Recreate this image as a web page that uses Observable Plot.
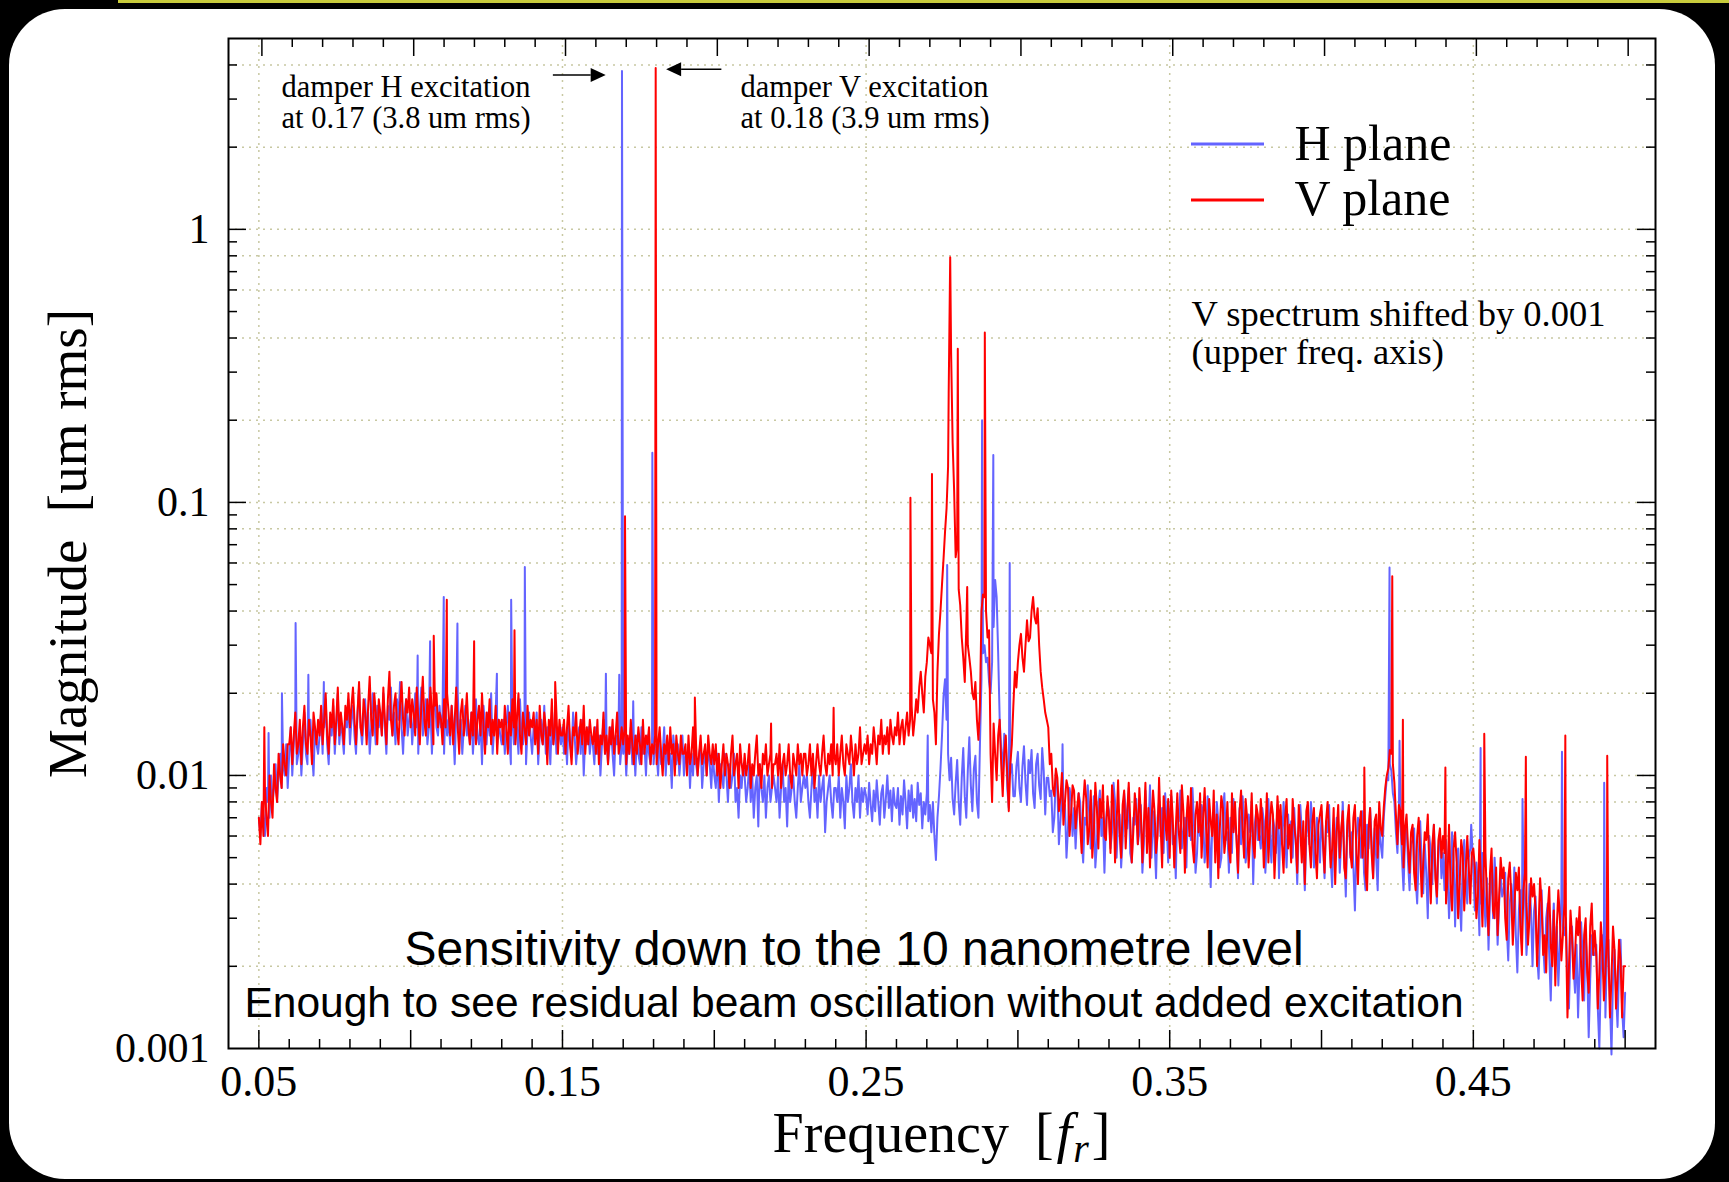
<!DOCTYPE html>
<html>
<head>
<meta charset="utf-8">
<title>Beam position spectrum</title>
<script src="https://cdn.jsdelivr.net/npm/d3@7"></script>
<script src="https://cdn.jsdelivr.net/npm/@observablehq/plot@0.6"></script>
<style>
  html, body { margin: 0; padding: 0; background: #000; }
  #stage { position: relative; width: 1729px; height: 1182px; overflow: hidden; background: #000; }
  #topline { position: absolute; left: 118px; top: 0; width: 1611px; height: 3px; background: #c8cb3c; }
  #panel { position: absolute; left: 9px; top: 9px; width: 1706px; height: 1170px; background: #fff; border-radius: 56px; }
  #chart { position: absolute; left: 0; top: 0; }
</style>
</head>
<body>
<div id="stage"><div id="topline"></div><div id="panel"></div><div id="chart"></div></div>
<script>
// ---------------- data (magnitudes in nm; 1 nm = 0.001 um rms) ----------------
// spectra sampled every 0.0005 f_r from 0.050 to 0.500 (one row = 0.01 f_r)
const freqStart = 0.05;
const freqStep = 0.0005;

const hPlaneNm = [
  7, 6, 8, 7, 6, 9, 8, 7, 10, 8, 9, 11, 8, 10, 12, 9, 11, 10, 13, 9,
  12, 15, 10, 13, 16, 11, 12, 14, 10, 13, 17, 12, 11, 14, 16, 12, 10, 15, 13, 12,
  14, 17, 12, 15, 19, 13, 11, 16, 14, 18, 12, 15, 20, 13, 16, 14, 12, 17, 15, 19,
  13, 16, 18, 14, 12, 17, 21, 15, 13, 16, 19, 14, 17, 12, 15, 20, 16, 13, 18, 15,
  17, 14, 20, 15, 12, 18, 16, 21, 14, 17, 13, 19, 16, 22, 15, 12, 17, 19, 14, 16,
  18, 13, 16, 20, 15, 12, 17, 21, 14, 16, 19, 13, 15, 18, 12, 17, 20, 15, 14, 18,
  15, 17, 12, 19, 14, 16, 13, 18, 15, 11, 17, 20, 14, 16, 12, 15, 18, 14, 16, 13,
  17, 12, 15, 19, 14, 13, 16, 11, 18, 15, 13, 17, 14, 20, 12, 15, 17, 13, 16, 14,
  13, 16, 12, 15, 18, 14, 11, 16, 13, 17, 15, 12, 19, 14, 13, 16, 11, 15, 17, 14,
  12, 15, 14, 17, 11, 14, 16, 13, 18, 12, 15, 14, 11, 16, 13, 17, 12, 15, 14, 13,
  15, 12, 14, 11, 16, 13, 12, 17, 14, 11, 13, 15, 12, 16, 10, 14, 13, 15, 12, 14,
  13, 11, 15, 12, 14, 10, 13, 16, 12, 14, 11, 13, 15, 12, 10, 14, 13, 16, 11, 13,
  12, 14, 10, 13, 12, 15, 11, 13, 10, 14, 12, 11, 15, 12, 13, 10, 14, 12, 11, 13,
  11, 13, 12, 10, 14, 11, 12, 15, 10, 13, 11, 12, 9, 14, 12, 11, 13, 10, 12, 14,
  10, 12, 11, 13, 9, 12, 10, 14, 11, 10, 12, 13, 9, 11, 12, 10, 13, 11, 9, 12,
  10, 9, 12, 8, 11, 10, 9, 12, 10, 8, 11, 9, 10, 12, 8, 9, 7, 10, 9, 11,
  10, 8, 9, 11, 8, 10, 7, 9, 10, 6.5, 11, 9, 8, 10, 7, 9, 10, 8, 9, 10,
  9, 8, 10, 7, 9, 11, 8, 9, 6.5, 10, 8, 9, 10, 8, 7, 9, 11, 8, 9, 10,
  9, 10, 8, 7, 9, 11, 8, 9, 7, 10, 8, 9, 10, 6.2, 8, 9, 10, 8, 7, 9,
  9, 8, 10, 7, 9, 8, 6.4, 10, 8, 9, 11, 8, 7, 9, 8, 10, 7, 9, 8, 9,
  8.4, 7.2, 9.4, 7.8, 6.8, 8.8, 7.4, 9.6, 8.0, 6.6, 8.6, 9.2, 7.0, 8.2, 10.0, 7.6, 8.8, 6.8, 9.0, 7.8,
  7.6, 9.0, 6.6, 8.4, 7.2, 9.6, 8.0, 6.4, 8.8, 7.4, 9.2, 7.0, 8.2, 6.8, 9.4, 7.8, 8.6, 6.4, 8.0, 7.2,
  8.6, 6.8, 7.8, 6.2, 8.0, 6.0, 4.9, 7.0, 8.4, 10.6, 14.0, 19.5, 22.5, 16.0, 12.0, 9.6, 11.6, 8.2, 7.2, 9.4,
  11.4, 8.0, 6.6, 9.8, 12.6, 8.4, 7.0, 10.4, 13.8, 9.2, 7.4, 10.6, 11.8, 8.0, 7.0, 13.0, 22.5, 28.0, 30.0, 26.0,
  27.0, 22.0, 20.0, 26.0, 35.0, 52.0, 45.0, 28.0, 16.0, 12.4, 10.5, 14.2, 13.5, 9.0, 7.6, 10.2, 11.0, 8.4, 8.4, 10.8,
  12.2, 9.0, 8.0, 10.8, 12.8, 9.4, 7.8, 11.4, 10.2, 12.4, 8.6, 7.6, 11.0, 12.0, 9.2, 8.2, 12.6, 10.4, 7.2, 9.8,
  9.8, 8.4, 8.8, 6.2, 7.0, 10.2, 9.0, 5.6, 6.8, 8.6, 7.4, 7.8, 5.0, 6.4, 9.0, 8.2, 6.0, 7.6, 5.4, 7.2,
  8.6, 8.0, 5.8, 4.8, 7.0, 6.6, 9.2, 7.2, 5.4, 6.2, 8.4, 4.6, 5.6, 7.8, 8.8, 6.0, 7.0, 4.4, 6.8, 8.0,
  7.4, 5.4, 6.2, 9.4, 8.0, 5.0, 6.8, 7.2, 4.6, 5.8, 8.6, 7.6, 6.4, 9.0, 5.2, 4.8, 7.0, 6.6, 8.2, 5.6,
  6.2, 7.8, 4.4, 5.6, 8.8, 6.8, 6.4, 9.2, 5.0, 7.4, 5.8, 4.2, 7.0, 8.0, 6.0, 7.6, 5.2, 8.6, 6.6, 4.8,
  7.2, 8.4, 5.6, 6.0, 4.2, 7.6, 6.8, 8.8, 5.4, 6.2, 7.0, 4.6, 8.0, 6.4, 5.8, 9.0, 6.6, 4.4, 5.2, 7.4,
  6.0, 7.8, 7.2, 4.8, 5.6, 8.4, 6.2, 3.9, 6.6, 7.0, 5.4, 8.0, 6.8, 4.6, 5.0, 7.4, 8.6, 5.8, 6.2, 4.4,
  7.0, 5.2, 8.2, 6.4, 6.0, 4.2, 7.6, 5.6, 8.4, 6.8, 4.8, 5.4, 7.2, 6.2, 8.0, 4.0, 6.6, 7.4, 5.8, 6.0,
  5.4, 7.6, 6.8, 4.4, 5.8, 8.2, 6.0, 4.8, 7.0, 6.4, 5.2, 7.8, 4.2, 6.6, 5.6, 8.0, 6.2, 4.6, 7.2, 5.6,
  6.8, 5.0, 7.6, 5.8, 4.0, 6.4, 7.8, 6.2, 5.4, 3.8, 6.0, 7.2, 5.6, 8.0, 6.6, 4.6, 5.2, 7.0, 6.0, 4.8,
  7.4, 5.6, 4.2, 6.8, 6.2, 7.8, 5.0, 3.9, 6.0, 5.4, 7.0, 6.6, 4.4, 5.8, 8.0, 5.2, 3.6, 6.4, 7.2, 5.0,
  6.2, 4.6, 3.2, 5.8, 7.0, 6.0, 5.0, 7.4, 4.4, 3.8, 6.6, 5.4, 7.6, 5.8, 4.2, 6.4, 5.0, 3.8, 6.8, 5.6,
  5.0, 7.0, 8.4, 9.8, 9.6, 11.0, 10.4, 8.6, 8.0, 6.2, 5.2, 7.4, 6.8, 5.0, 3.8, 5.8, 6.6, 4.8, 3.8, 5.6,
  5.8, 6.4, 4.2, 3.4, 5.0, 6.8, 4.8, 3.7, 5.6, 4.4, 3.0, 6.0, 5.2, 4.0, 6.6, 4.6, 3.4, 5.4, 6.0, 4.2,
  5.2, 3.8, 5.8, 4.4, 3.0, 4.0, 6.2, 5.0, 2.8, 4.6, 5.4, 3.6, 2.7, 4.8, 5.8, 4.2, 3.4, 5.0, 5.4, 6.0,
  4.4, 3.2, 4.8, 4.0, 2.6, 3.4, 5.2, 3.8, 2.8, 4.2, 2.3, 3.6, 4.6, 3.0, 5.0, 3.8, 2.4, 3.4, 4.4, 3.6,
  3.8, 4.4, 2.8, 2.1, 3.4, 4.0, 3.0, 4.6, 2.6, 1.9, 3.2, 3.8, 2.4, 4.4, 3.6, 2.2, 2.8, 4.0, 3.2, 2.0,
  3.2, 3.6, 2.2, 1.8, 2.8, 3.8, 2.4, 1.9, 3.0, 3.4, 2.2, 1.5, 2.6, 3.4, 2.0, 2.8, 1.7, 2.4, 3.6, 2.8,
  2.6, 3.0, 1.8, 1.4, 2.4, 2.8, 2.0, 1.6, 2.4, 1.3, 2.0, 2.9, 2.2, 1.5, 2.6, 2.0, 1.1, 1.8, 2.6, 2.2,
  2.2, 2.4, 1.4, 1.0, 1.9, 2.6, 1.8, 1.3, 2.2, 2.5, 1.5, 0.95, 1.8, 2.3, 1.6, 1.2, 2.0, 2.5, 1.4, 1.1,
  1.6
];

const vPlaneNm = [
  7, 5.6, 8, 6, 9, 7, 6, 10, 8, 7, 11, 9, 8, 12, 10, 9, 13, 11, 10, 13,
  13, 15, 11, 14, 17, 12, 13, 16, 11, 15, 18, 13, 12, 16, 14, 11, 17, 15, 13, 16,
  14, 18, 13, 16, 20, 14, 12, 17, 15, 19, 13, 16, 21, 14, 17, 15, 13, 18, 16, 20,
  15, 18, 21, 16, 13, 17, 22, 15, 14, 19, 17, 13, 18, 23, 16, 14, 20, 17, 13, 19,
  17, 14, 21, 16, 13, 19, 24, 16, 14, 18, 20, 15, 13, 18, 22, 16, 14, 19, 17, 21,
  15, 19, 17, 14, 21, 16, 13, 18, 23, 16, 14, 19, 15, 21, 17, 13, 18, 20, 15, 17,
  16, 13, 19, 15, 20, 17, 14, 18, 13, 16, 21, 15, 12, 17, 19, 14, 16, 20, 15, 13,
  17, 14, 19, 13, 16, 18, 14, 20, 15, 12, 17, 15, 19, 13, 16, 14, 18, 12, 16, 15,
  16, 13, 18, 15, 12, 17, 14, 19, 15, 13, 16, 20, 14, 12, 17, 15, 13, 18, 14, 16,
  15, 17, 13, 16, 12, 18, 14, 13, 17, 15, 11, 16, 14, 19, 13, 15, 17, 12, 16, 14,
  14, 16, 12, 15, 18, 13, 11, 15, 14, 17, 12, 14, 16, 13, 18, 12, 15, 13, 16, 14,
  13, 15, 12, 16, 11, 14, 13, 17, 12, 14, 11, 15, 13, 16, 12, 14, 17, 12, 13, 15,
  13, 15, 11, 14, 12, 16, 13, 11, 14, 12, 15, 13, 11, 16, 12, 14, 13, 15, 11, 13,
  12, 14, 11, 13, 15, 12, 10, 13, 12, 14, 11, 15, 12, 13, 10, 14, 12, 11, 14, 12,
  12, 13, 10, 14, 11, 12, 15, 11, 13, 10, 12, 14, 11, 12, 13, 10, 14, 12, 11, 13,
  11, 13, 10, 12, 9, 11, 13, 10, 12, 11, 9, 12, 14, 10, 11, 12, 9, 13, 11, 10,
  12, 10, 11, 13, 9, 11, 10, 12, 14, 10, 11, 9, 12, 11, 13, 10, 11, 12, 9, 11,
  11, 12, 10, 13, 9, 11, 12, 10, 11, 13, 10, 9, 12, 11, 10, 13, 11, 12, 10, 12,
  12, 10, 11, 13, 10, 12, 9, 11, 13, 11, 10, 12, 14, 11, 10, 12, 11, 13, 10, 12,
  11, 13, 10, 12, 14, 11, 10, 13, 12, 11, 14, 12, 10, 13, 11, 12, 15, 11, 12, 13,
  12, 14, 11, 13, 12, 15, 13, 11, 14, 13, 16, 12, 14, 13, 15, 12, 16, 14, 13, 15,
  14, 17, 13, 15, 16, 13, 15, 17, 14, 16, 18, 14, 16, 19, 17, 21, 24, 20, 17, 23,
  26, 32, 30, 28, 19, 17, 13, 24, 33, 40, 50, 62, 78, 95, 135, 500, 353, 166, 110, 63,
  70, 48, 42, 32, 27, 22, 35, 30, 27, 24, 20, 19, 22, 16, 13.5, 18, 40, 46, 45, 40,
  32, 34, 12, 8, 15.5, 12, 9.6, 14, 16, 11, 8.4, 12, 14, 10, 7.4, 11, 13, 18, 24, 21,
  26, 30, 33, 27, 24, 30, 37, 31, 32, 40, 45, 38, 36, 41, 30, 24, 21, 19, 17, 16,
  15, 11, 12, 9.0, 8.4, 10.6, 9.8, 7.4, 8.2, 10.2, 6.6, 8.0, 9.6, 9.0, 6.0, 7.2, 9.2, 8.8, 6.4, 7.6,
  8.6, 6.6, 5.2, 7.8, 9.6, 8.2, 5.6, 6.4, 8.8, 5.0, 6.2, 9.4, 7.6, 5.4, 8.2, 7.0, 9.2, 6.0, 5.8, 8.4,
  7.0, 5.2, 9.2, 8.0, 4.8, 6.6, 9.6, 6.2, 5.0, 7.8, 8.8, 5.4, 7.2, 9.4, 6.8, 4.8, 6.2, 8.6, 7.4, 5.6,
  9.0, 7.2, 4.8, 6.6, 9.4, 5.2, 7.6, 4.6, 6.8, 8.8, 7.4, 5.2, 6.0, 9.8, 6.6, 4.6, 8.4, 7.0, 5.8, 8.2,
  5.0, 8.8, 7.0, 4.6, 6.4, 8.6, 6.2, 5.2, 9.2, 7.4, 4.4, 6.8, 8.4, 6.0, 9.0, 5.6, 4.8, 7.2, 8.0, 6.2,
  8.6, 5.0, 7.0, 9.0, 6.4, 4.6, 8.2, 6.8, 6.0, 8.8, 4.8, 7.2, 4.2, 6.4, 8.4, 7.6, 5.2, 6.0, 8.0, 5.4,
  4.8, 8.6, 6.2, 8.0, 5.8, 4.4, 7.4, 8.8, 6.4, 5.0, 8.2, 7.0, 4.6, 6.0, 8.6, 5.6, 5.0, 7.8, 7.2, 5.8,
  8.2, 6.8, 4.6, 6.0, 8.6, 4.8, 6.6, 8.0, 7.2, 4.2, 5.8, 8.4, 6.4, 7.8, 5.6, 4.4, 7.0, 8.2, 5.4, 6.6,
  4.8, 8.2, 6.6, 5.8, 4.4, 7.8, 6.4, 4.8, 6.8, 4.0, 7.4, 8.0, 5.6, 4.6, 6.8, 7.6, 5.2, 4.2, 6.6, 7.2,
  7.8, 5.6, 4.4, 6.8, 8.0, 6.2, 4.6, 5.4, 7.6, 4.0, 6.2, 7.8, 5.0, 6.4, 7.4, 4.6, 4.2, 6.8, 7.8, 5.2,
  4.6, 7.0, 7.8, 5.2, 4.0, 6.6, 7.4, 5.0, 6.2, 4.4, 3.8, 6.4, 7.6, 5.2, 4.2, 6.8, 7.2, 5.0, 8.0, 6.4,
  6.0, 7.6, 9.0, 10.0, 10.6, 12.4, 12.0, 11.0, 9.4, 7.2, 5.6, 7.8, 7.4, 5.6, 4.6, 6.4, 7.2, 5.4, 4.4, 6.2,
  6.6, 4.4, 3.8, 6.0, 7.0, 5.2, 3.6, 4.8, 6.2, 5.8, 7.2, 4.6, 3.4, 5.6, 6.6, 4.2, 3.6, 5.8, 6.4, 5.0,
  6.0, 5.2, 3.4, 4.2, 6.6, 4.0, 3.2, 5.4, 6.2, 4.8, 3.0, 4.0, 5.8, 5.2, 3.2, 4.4, 6.0, 4.6, 3.4, 5.2,
  5.4, 4.6, 3.0, 3.6, 5.8, 4.2, 2.8, 4.8, 5.2, 3.4, 2.6, 4.4, 5.4, 3.2, 3.0, 4.6, 2.6, 3.6, 5.0, 4.2,
  4.6, 3.0, 2.5, 4.2, 4.8, 3.6, 2.4, 3.2, 4.4, 3.8, 4.6, 2.8, 2.2, 3.8, 4.4, 3.4, 2.4, 3.0, 4.2, 3.6,
  4.0, 3.2, 2.0, 2.8, 4.2, 3.4, 2.2, 2.6, 1.9, 3.2, 3.9, 2.4, 2.0, 3.2, 1.7, 2.8, 3.8, 3.0, 2.1, 2.6,
  3.4, 2.8, 1.3, 2.0, 3.2, 2.6, 1.8, 2.2, 3.0, 2.6, 3.3, 2.0, 1.5, 2.6, 3.0, 1.9, 1.6, 2.8, 3.4, 2.2,
  2.7, 2.2, 1.4, 1.9, 2.9, 2.3, 1.5, 1.9, 2.6, 2.2, 1.3, 1.8, 2.8, 2.3, 1.4, 1.8, 2.5, 2.1, 1.3, 2.0,
  2.0
];

// narrow lines that fall between the samples (frequency, nm)
const hSpikeFreq = [0.0532, 0.0576, 0.0621, 0.0663, 0.0714, 0.1023, 0.1064, 0.1109, 0.1154, 0.1284,
                    0.1331, 0.1376, 0.1643, 0.1687, 0.1696, 0.1733, 0.1796, 0.2703, 0.2767, 0.2882,
                    0.2919, 0.2973, 0.3147, 0.4224, 0.4257, 0.4493, 0.4524, 0.4662, 0.4792, 0.4931];
const hSpikeNm   = [14.3, 20, 36.2, 23.4, 22, 27.5, 31, 45, 36, 23.6,
                    44, 58, 23.6, 23.4, 3800, 18.7, 152, 14, 59, 200,
                    149, 60, 13, 57.7, 13.4, 6.6, 12.6, 8.2, 12.2, 9.4];
const vSpikeFreq = [0.0518, 0.1076, 0.1119, 0.1209, 0.1342, 0.1476, 0.1706, 0.1807, 0.1936, 0.2187,
                    0.2393, 0.2646, 0.2717, 0.2772, 0.2777, 0.2802, 0.2833, 0.2891, 0.4141, 0.4233,
                    0.4268, 0.4408, 0.4536, 0.4673, 0.4803, 0.4941];
const vSpikeNm   = [15, 32.5, 44, 31, 34, 22, 89, 3900, 19.3, 15.5,
                    17.7, 104, 127, 250, 790, 365, 49, 419, 10.7, 53.7,
                    16, 10.7, 14.2, 11.7, 14.0, 11.8];

const seriesNames = ["H plane", "V plane"];
const seriesColors = ["#6464ff", "#ff0000"];
const xTickLabels = [0.05, 0.15, 0.25, 0.35, 0.45];
const yTickLabels = [0.001, 0.01, 0.1, 1];
const xAxisWord = "Frequency";
const yAxisLabel = "Magnitude\u00a0\u00a0[um rms]";
const annotH = ["damper H excitation", "at 0.17 (3.8 um rms)"];
const annotV = ["damper V excitation", "at 0.18 (3.9 um rms)"];
const shiftNote = ["V spectrum shifted by 0.001", "(upper freq. axis)"];
const captionLines = ["Sensitivity down to the 10 nanometre level",
                      "Enough to see residual beam oscillation without added excitation"];
const arrowFrom = [0.1470, 0.2025];
const arrowTo = [0.1644, 0.1843];
const arrowLevel = [3.66, 3.84];
const upperAxisShift = 0.001;

// ---------------- build tables ----------------
function buildSeries(baseNm, spikeFreq, spikeNm, plane) {
  const rows = baseNm.map((nm, i) => ({f: Math.round((freqStart + i * freqStep) * 1e4) / 1e4, mag: nm / 1000, plane}));
  spikeFreq.forEach((f, j) => rows.push({f, mag: spikeNm[j] / 1000, plane}));
  return rows.sort((a, b) => a.f - b.f);
}
const hData = buildSeries(hPlaneNm, hSpikeFreq, hSpikeNm, seriesNames[0]);
const vData = buildSeries(vPlaneNm, vSpikeFreq, vSpikeNm, seriesNames[1]);

// axis tick positions
const isMult05 = d => Math.abs(d / 0.05 - Math.round(d / 0.05)) < 1e-6;
const xAll = d3.range(5, 51).map(k => k / 100);
const xMajor = xAll.filter(isMult05);
const xMinor = xAll.filter(d => !isMult05(d));
const yMajor = [0.01, 0.1, 1];
const yMinor = [];
const yGrid = [];
[-3, -2, -1, 0].forEach(k => {
  d3.range(2, 10).forEach(m => { const v = +(m * 10 ** k).toPrecision(3); if (v < 5) yMinor.push(v); });
  [1, 2, 4, 6, 8].forEach(m => { const v = +(m * 10 ** k).toPrecision(3); if (v > 0.001 && v < 5) yGrid.push(v); });
});

// ---------------- plot ----------------
const W = 1729, Ht = 1182;
const mL = 228, mR = 74, mT = 38, mB = 134;
const plotW = W - mL - mR, plotH = Ht - mT - mB;
const serif = "Liberation Serif";
const sans = "Liberation Sans";
const majorLen = 18, minorLen = 9;
const tickStyle = {stroke: "#000", strokeWidth: 1.5};
const gridStyle = {stroke: "#c8c8a2", strokeWidth: 1.5, strokeDasharray: "2,5"};

function label(text, opts) {
  return Plot.text([text], {text: d => d, fill: "#000", lineAnchor: "bottom", ...opts});
}

const chart = Plot.plot({
  width: W, height: Ht,
  marginLeft: mL, marginRight: mR, marginTop: mT, marginBottom: mB,
  style: {background: "transparent", fontFamily: serif, fontSize: "42px", overflow: "visible"},
  x: {domain: [0.04, 0.51], label: null},
  y: {type: "log", domain: [0.001, 5], label: null},
  marks: [
    Plot.ruleX(xTickLabels, gridStyle),
    Plot.ruleY(yGrid, gridStyle),
    Plot.line(hData, {x: "f", y: "mag", stroke: seriesColors[0], strokeWidth: 2}),
    Plot.line(vData, {x: "f", y: "mag", stroke: seriesColors[1], strokeWidth: 2}),
    // inward ticks, all four sides
    Plot.ruleY(yMajor, {...tickStyle, insetRight: plotW - majorLen}),
    Plot.ruleY(yMinor, {...tickStyle, insetRight: plotW - minorLen}),
    Plot.ruleY(yMajor, {...tickStyle, insetLeft: plotW - majorLen}),
    Plot.ruleY(yMinor, {...tickStyle, insetLeft: plotW - minorLen}),
    Plot.ruleX(xMajor, {...tickStyle, insetTop: plotH - majorLen}),
    Plot.ruleX(xMinor, {...tickStyle, insetTop: plotH - minorLen}),
    Plot.ruleX(xMajor.map(d => d + upperAxisShift), {...tickStyle, insetBottom: plotH - majorLen}),
    Plot.ruleX(xMinor.map(d => d + upperAxisShift), {...tickStyle, insetBottom: plotH - minorLen}),
    Plot.frame({stroke: "#000", strokeWidth: 2}),
    Plot.axisX({ticks: xTickLabels, tickSize: 0, tickPadding: 16, tickFormat: d3.format(".2f"),
                fontSize: 44, fontFamily: serif, label: null}),
    Plot.axisY({ticks: yTickLabels, tickSize: 0, tickPadding: 19, tickFormat: d => String(d),
                fontSize: 42, fontFamily: serif, label: null}),
    // y axis title
    Plot.text([yAxisLabel], {text: d => d, frameAnchor: "left", dx: -160, rotate: -90,
                             textAnchor: "middle", lineAnchor: "middle", fontSize: 55, fontFamily: serif, fill: "#000"}),
    // x axis title with italic subscript
    (index, scales, values, dims) => {
      const cx = dims.marginLeft + (dims.width - dims.marginLeft - dims.marginRight) / 2;
      const t = d3.create("svg:text")
        .attr("x", cx).attr("y", dims.height - dims.marginBottom + 104)
        .attr("text-anchor", "middle").attr("font-family", serif).attr("font-size", 56).attr("fill", "#000");
      t.append("tspan").text(xAxisWord);
      t.append("tspan").attr("dx", 26).text("[");
      t.append("tspan").attr("font-style", "italic").attr("dx", 3).text("f");
      t.append("tspan").attr("font-style", "italic").attr("font-size", 40).attr("dy", 10).attr("dx", 1).text("r");
      t.append("tspan").attr("dy", -10).attr("dx", 3).text("]");
      return t.node();
    },
    // excitation annotations
    label(annotH[0], {frameAnchor: "top-left", textAnchor: "start", dx: 53, dy: 58, fontSize: 30.5, fontFamily: serif}),
    label(annotH[1], {frameAnchor: "top-left", textAnchor: "start", dx: 53, dy: 89, fontSize: 30.5, fontFamily: serif}),
    label(annotV[0], {frameAnchor: "top-left", textAnchor: "start", dx: 512, dy: 58, fontSize: 30.5, fontFamily: serif}),
    label(annotV[1], {frameAnchor: "top-left", textAnchor: "start", dx: 512, dy: 89, fontSize: 30.5, fontFamily: serif}),
    (index, {x, y}) => {
      const g = d3.create("svg:g");
      arrowFrom.forEach((f0, i) => {
        const x0 = x(f0), x1 = x(arrowTo[i]), yy = y(arrowLevel[i]);
        const dir = Math.sign(x1 - x0), head = 15, half = 7;
        g.append("line").attr("x1", x0).attr("x2", x1 - dir * head).attr("y1", yy).attr("y2", yy)
          .attr("stroke", "#000").attr("stroke-width", 1.5);
        g.append("path").attr("fill", "#000")
          .attr("d", `M${x1},${yy}L${x1 - dir * head},${yy - half}L${x1 - dir * head},${yy + half}Z`);
      });
      return g.node();
    },
    // legend
    (index, scales, values, dims) => {
      const g = d3.create("svg:g");
      seriesNames.forEach((name, i) => {
        const yy = dims.marginTop + 106 + i * 56;
        g.append("line").attr("x1", dims.marginLeft + 963).attr("x2", dims.marginLeft + 1036)
          .attr("y1", yy).attr("y2", yy).attr("stroke", seriesColors[i]).attr("stroke-width", 3);
      });
      return g.node();
    },
    label(seriesNames[0], {frameAnchor: "top-left", textAnchor: "start", dx: 1066, dy: 121, fontSize: 50, fontFamily: serif}),
    label(seriesNames[1], {frameAnchor: "top-left", textAnchor: "start", dx: 1066, dy: 176, fontSize: 50, fontFamily: serif}),
    label(shiftNote[0], {frameAnchor: "top-left", textAnchor: "start", dx: 963, dy: 287, fontSize: 36.5, fontFamily: serif}),
    label(shiftNote[1], {frameAnchor: "top-left", textAnchor: "start", dx: 963, dy: 325, fontSize: 36.5, fontFamily: serif}),
    // sensitivity caption inside the frame
    label(captionLines[0], {frameAnchor: "bottom", textAnchor: "middle", dx: -88, dy: -84, fontSize: 48, fontFamily: sans}),
    label(captionLines[1], {frameAnchor: "bottom", textAnchor: "middle", dx: -88, dy: -32, fontSize: 42.5, fontFamily: sans})
  ]
});
document.getElementById("chart").append(chart);
</script>
</body>
</html>
